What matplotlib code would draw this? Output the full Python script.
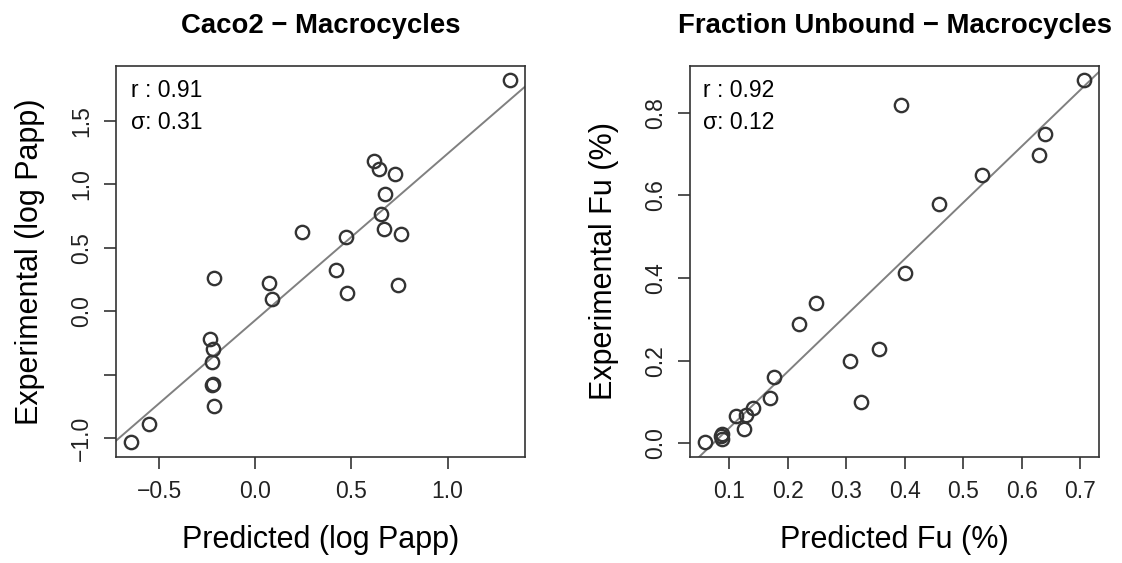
import matplotlib
matplotlib.use("Agg")
import matplotlib.pyplot as plt

plt.rcParams['font.family'] = ['Liberation Sans', 'DejaVu Sans']

# Caco2 - macrocycles (predicted vs experimental log Papp)
caco_pred = [1.324, 0.617, 0.642, 0.725, 0.674, 0.654, 0.669, 0.758, 0.241, 0.470,
             0.418, -0.213, 0.071, 0.085, 0.475, 0.744, -0.236, -0.222, -0.224,
             -0.218, -0.225, -0.213, -0.553, -0.648]
caco_exp = [1.824, 1.183, 1.120, 1.085, 0.925, 0.767, 0.647, 0.607, 0.625, 0.583,
            0.326, 0.260, 0.221, 0.099, 0.147, 0.207, -0.221, -0.300, -0.400,
            -0.571, -0.584, -0.747, -0.886, -1.033]
caco_fit = (-0.070, 1.313)  # intercept, slope
caco_stats = ["r : 0.91", "σ: 0.31"]

# fraction unbound - macrocycles
fu_pred = [0.707, 0.394, 0.640, 0.629, 0.533, 0.459, 0.401, 0.248, 0.219, 0.356,
           0.306, 0.325, 0.176, 0.170, 0.140, 0.129, 0.111, 0.125, 0.088, 0.086,
           0.087, 0.058]
fu_exp = [0.880, 0.819, 0.749, 0.698, 0.649, 0.579, 0.412, 0.339, 0.289, 0.229,
          0.200, 0.100, 0.160, 0.110, 0.085, 0.069, 0.067, 0.035, 0.023, 0.018,
          0.010, 0.002]
fu_fit = (-0.099, 1.363)
fu_stats = ["r : 0.92", "σ: 0.12"]

fig = plt.figure(figsize=(11.22, 5.63), dpi=100)
ax1 = fig.add_axes([0.1034, 0.1883, 0.3645, 0.6945])
ax2 = fig.add_axes([0.615, 0.1889, 0.3648, 0.6939])


def panel(ax, x, y, fit, stats, title, xlab, ylab, xlim, ylim, xticks, yticks, yticklabels, tx):
    ax.plot(x, y, 'o', ms=9.6, mfc='none', mec='#333333', mew=1.7, zorder=3)
    a, b = fit
    ax.plot(xlim, [a + b * xlim[0], a + b * xlim[1]], color='#808080', lw=1.4, zorder=2)
    ax.set_xlim(xlim)
    ax.set_ylim(ylim)
    ax.set_xticks(xticks)
    ax.set_xticklabels([f"{t:.1f}".replace('-', '\u2212') for t in xticks])
    ax.set_yticks(yticks)
    ax.set_yticklabels(yticklabels, rotation=90, va='center')
    ax.tick_params(direction='out', length=8.5, width=1.1, labelsize=16.5, pad=8, colors='#222222')
    for s in ax.spines.values():
        s.set_linewidth(1.2)
        s.set_color('#333333')
    ax.set_title(title, fontsize=19.8, fontweight='bold', pad=24)
    ax.set_xlabel(xlab, fontsize=22, labelpad=16)
    ax.set_ylabel(ylab, fontsize=22, labelpad=18)
    ax.text(tx, 0.9215, stats[0], transform=ax.transAxes, fontsize=16.5, va='baseline')
    ax.text(tx, 0.8389, stats[1], transform=ax.transAxes, fontsize=16.5, va='baseline')


panel(ax1, caco_pred, caco_exp, caco_fit, caco_stats,
      "Caco2 \u2212 Macrocycles", "Predicted (log Papp)", "Experimental (log Papp)",
      (-0.724, 1.402), (-1.149, 1.934),
      [-0.5, 0.0, 0.5, 1.0], [-1.0, -0.5, 0.0, 0.5, 1.0, 1.5],
      ["\u22121.0", "", "0.0", "0.5", "1.0", "1.5"], 0.036)

panel(ax2, fu_pred, fu_exp, fu_fit, fu_stats,
      "Fraction Unbound \u2212 Macrocycles", "Predicted Fu (%)", "Experimental Fu (%)",
      (0.0328, 0.733), (-0.0324, 0.9136),
      [0.1, 0.2, 0.3, 0.4, 0.5, 0.6, 0.7], [0.0, 0.2, 0.4, 0.6, 0.8],
      ["0.0", "0.2", "0.4", "0.6", "0.8"], 0.0325)

fig.savefig("out.png", dpi=100)
